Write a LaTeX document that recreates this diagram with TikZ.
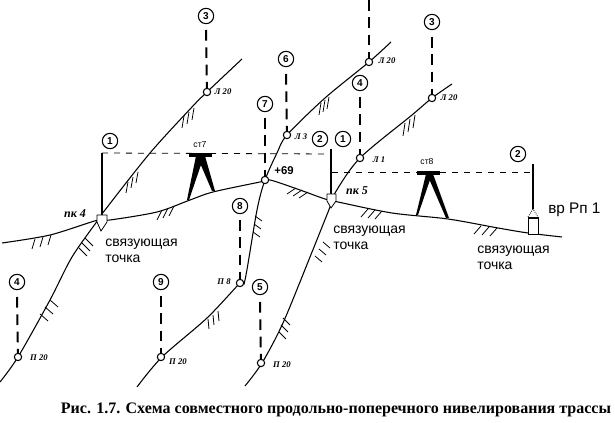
\documentclass[tikz,border=0pt]{standalone}
\usepackage{fontspec}
\setmainfont{Liberation Sans}
\newfontfamily\capfont{Liberation Serif}
\usepackage{tikz}
\usetikzlibrary{positioning}

\begin{document}
\begin{tikzpicture}[x=0.75pt,y=-0.75pt]
    \tikzstyle{num}=[circle, draw=black, thick, fill=white, minimum size=11.5pt, inner sep=0pt, font=\bfseries\fontsize{7.5}{7.5}\selectfont]
    \tikzstyle{pt}=[circle, draw=black, thick, fill=white, minimum size=5.5pt, inner sep=0pt]
    \tikzstyle{small}=[inner sep=0pt, font=\capfont\bfseries\itshape\fontsize{6.5}{6.5}\selectfont]
    \tikzstyle{pk}=[inner sep=0pt, font=\capfont\bfseries\itshape\fontsize{9}{9}\selectfont]
    \tikzstyle{note}=[inner sep=0pt, align=left, anchor=north west, font=\fontsize{10.5}{12}\selectfont]
    \tikzstyle{ground}=[line width=0.8pt]
    \tikzstyle{hatch}=[line width=0.6pt]
    \tikzstyle{cross}=[line width=1.5pt, dash pattern=on 8pt off 5pt]
    \tikzstyle{sight}=[semithick, dash pattern=on 4.5pt off 4.5pt]
    \tikzstyle{rod}=[line width=1.5pt]
    \useasboundingbox (0,0) rectangle (615,423);

    % profile and cross lines
    \draw[ground] plot[smooth] coordinates {(2,243) (50,235) (98,220) (110,220) (157,212) (190,200) (213,192) (260,182) (270,180) (300,190) (325,199) (338,202) (392,213) (448,219) (498,228) (528,233) (562,237)};
    \draw[ground] plot[smooth] coordinates {(0,382) (18,357) (50,300) (72,257) (98,220) (105,210) (150,153) (192,107) (207,92) (242,59)};
    \draw[ground] plot[smooth] coordinates {(137,387) (162,357) (207,318) (240,283) (245,280) (257,210) (265,180) (277,153) (287,135) (325,98) (369,62) (391,42)};
    \draw[ground] plot[smooth] coordinates {(245,386) (262,363) (283,323) (310,257) (330,207) (335,193) (360,158) (412,115) (432,98) (452,84)};

    % hachures
    \foreach \hx/\hy/\sx/\sy/\tx/\ty in {189/112/5/-4/-2/12, 133/177/5/-5/-2/11, 82/243/3/-5/8/8, 45/307/5/-7/8/7,
        43/237/8/-2/-3/10, 168/208/6/-2/-5/10, 302/190/6/2/-9/6, 375/210/7/1/-7/8, 489/227/8/1/-7/8,
        410/119/5/-4/-2/13, 325/100/4/-3/-2/12, 254/224/1/-8/7/5, 213/315/5/-4/1/10, 319/249/-4/7/7/6, 281/325/2/-7/7/7}
      \foreach \i in {-1,0,1}
        \draw[hatch] ({\hx+\i*\sx},{\hy+\i*\sy}) -- ++(\tx,\ty);

    % pickets, rods and sights
    \coordinate (rodA) at (102,153);
    \coordinate (rodAb) at (102,216);
    \coordinate (rodB) at (331,149);
    \coordinate (rodBb) at (331,195);
    \coordinate (rodC) at (533,164);
    \coordinate (rodCb) at (533,209);
    \coordinate (sightB) at (331,154);
    \coordinate (sightC) at (332,172);
    \coordinate (sightD) at (533,172);
    \draw[rod] (rodA) -- (rodAb);
    \draw[rod] (rodB) -- (rodBb);
    \draw[rod] (rodC) -- (rodCb);
    \draw[sight] (rodA) -- (sightB);
    \draw[sight] (sightC) -- (sightD);
    \draw[semithick, fill=white] (97,215) -- (107,215) -- (107,222) -- (101,231) -- (97,222) -- cycle;
    \draw[semithick, fill=white] (327,194) -- (336,194) -- (336,201) -- (331,208) -- (327,201) -- cycle;

    % benchmark
    \draw[semithick, densely dotted] (528,217) -- (533,209) -- (538,217);
    \draw[semithick, fill=white] (528,217) rectangle (538,234);
    \draw[line width=1.5pt] (528,218) -- (538,218);

    % levels
    \draw[line width=2.5pt] (189,155) -- (212,155);
    \fill (196,156) -- (204,156) -- (189,200) -- (187,200) -- cycle;
    \fill (197,156) -- (205,156) -- (215,191) -- (212,191) -- cycle;
    \draw[line width=2.5pt] (417,173) -- (440,173);
    \fill (426,174) -- (432,174) -- (418,215) -- (416,215) -- cycle;
    \fill (427,174) -- (433,174) -- (449,218) -- (446,218) -- cycle;
    \node[inner sep=0pt, font=\fontsize{6.5}{6.5}\selectfont] (st7) at (200,145) {ст7};
    \node[inner sep=0pt, font=\fontsize{6.5}{6.5}\selectfont] (st8) at (427,162) {ст8};

    % points on the cross lines
    \node[pt] (l20a) at (207,92) {};
    \node[pt] (l20b) at (369,62) {};
    \node[pt] (l20c) at (432,98) {};
    \node[pt] (l3) at (287,135) {};
    \node[pt] (l1) at (360,158) {};
    \node[pt] (p69) at (265,180) {};
    \node[pt] (p8) at (240,283) {};
    \node[pt] (p20a) at (18,357) {};
    \node[pt] (p20b) at (161,357) {};
    \node[pt] (p20c) at (261,363) {};
    \coordinate (top) at (369,0);

    \node[num] (n3a) at (206,16) {3};
    \node[num] (n6) at (286,59) {6};
    \node[num] (n7) at (265,104) {7};
    \node[num] (n1a) at (110,141) {1};
    \node[num] (n2a) at (320,139) {2};
    \node[num] (n1b) at (343,139) {1};
    \node[num] (n4a) at (360,83) {4};
    \node[num] (n3b) at (432,22) {3};
    \node[num] (n2b) at (518,154) {2};
    \node[num] (n4b) at (17,282) {4};
    \node[num] (n9) at (161,282) {9};
    \node[num] (n8) at (240,206) {8};
    \node[num] (n5) at (260,287) {5};

    \draw[cross] (top) -- (l20b);
    \draw[cross] (n3a) ++(0,14) -- (l20a);
    \draw[cross] (n3b) ++(0,15) -- (l20c);
    \draw[cross] (n6) ++(0,15) -- (l3);
    \draw[cross] (n7) ++(0,14) -- (p69);
    \draw[cross] (n4a) ++(0,14) -- (l1);
    \draw[cross] (n4b) ++(0,15) -- (p20a);
    \draw[cross] (n9) ++(0,14) -- (p20b);
    \draw[cross] (n8) ++(0,14) -- (p8);
    \draw[cross] (n5) ++(0,15) -- (p20c);

    % labels
    \node[small] (tl20a) at (223,92) {Л 20};
    \node[small] (tl20b) at (387,61) {Л 20};
    \node[small] (tl20c) at (449,98) {Л 20};
    \node[small] (tl3) at (301,137) {Л 3};
    \node[small] (tl1) at (379,160) {Л 1};
    \node[small] (tp8) at (224,282) {П 8};
    \node[small] (tp20a) at (39,358) {П 20};
    \node[small] (tp20b) at (178,362) {П 20};
    \node[small] (tp20c) at (282,365) {П 20};
    \node[pk] (pk4) at (75,214) {пк 4};
    \node[pk] (pk5) at (357,191) {пк 5};
    \node[inner sep=0pt, font=\bfseries\fontsize{8.5}{8.5}\selectfont] (plus) at (284,171) {+69};
    \node[inner sep=0pt, anchor=west, font=\fontsize{11.5}{11.5}\selectfont] (rp) at (548,210) {вр Рп 1};
    \node[note] (svA) at (105,239) {связующая\\точка};
    \node[note] (svB) at (333,226) {связующая\\точка};
    \node[note] (svC) at (477,246) {связующая\\точка};
    \node[inner sep=0pt, font=\capfont\bfseries\fontsize{12}{12}\selectfont] (caption) at (336,410) {Рис. 1.7. Схема совместного продольно-поперечного нивелирования трассы};
\end{tikzpicture}
\end{document}
